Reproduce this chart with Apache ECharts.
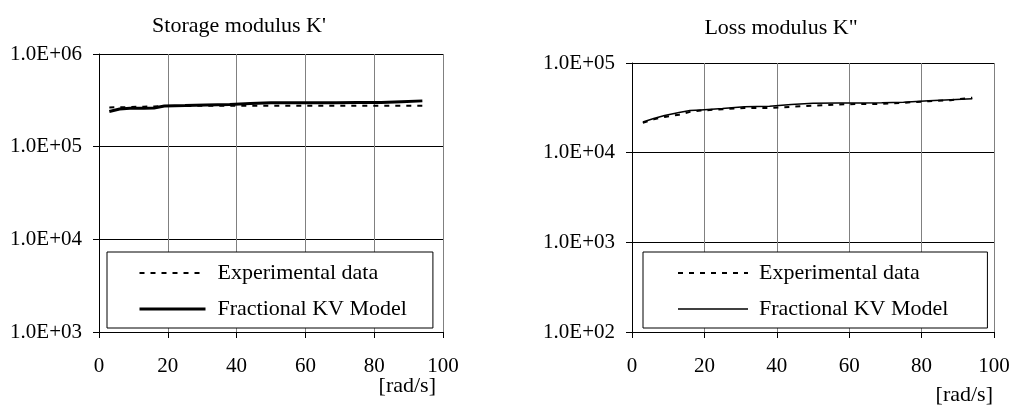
<!DOCTYPE html>
<html>
<head>
<meta charset="utf-8">
<script src="https://cdn.jsdelivr.net/npm/echarts@6/dist/echarts.min.js"></script>
<style>
  html, body { margin: 0; padding: 0; background: #fff; }
  #chart { width: 1016px; height: 411px; }
</style>
</head>
<body>
<div id="chart"></div>
<script>
// frequencies [rad/s]
const freq = [3, 6, 9, 13, 16, 19, 25, 31, 38, 44, 50, 57, 63, 69, 75, 82, 88, 94]
// storage modulus K'
const storageExp = [2.65e5, 2.66e5, 2.68e5, 2.7e5, 2.72e5, 2.74e5, 2.75e5, 2.76e5, 2.77e5, 2.77e5, 2.76e5, 2.76e5, 2.76e5, 2.76e5, 2.76e5, 2.76e5, 2.76e5, 2.76e5]
const storageModel = [2.4e5, 2.55e5, 2.6e5, 2.6e5, 2.62e5, 2.75e5, 2.78e5, 2.82e5, 2.86e5, 2.92e5, 2.98e5, 2.98e5, 2.98e5, 2.98e5, 2.99e5, 3.0e5, 3.06e5, 3.12e5]
// loss modulus K''
const lossExp = [2.15e4, 2.35e4, 2.5e4, 2.65e4, 2.85e4, 2.95e4, 3.05e4, 3.15e4, 3.15e4, 3.25e4, 3.35e4, 3.45e4, 3.5e4, 3.5e4, 3.6e4, 3.75e4, 3.85e4, 4.1e4]
const lossModel = [2.2e4, 2.4e4, 2.6e4, 2.8e4, 2.95e4, 3.0e4, 3.1e4, 3.25e4, 3.3e4, 3.45e4, 3.55e4, 3.57e4, 3.58e4, 3.6e4, 3.65e4, 3.8e4, 3.9e4, 4.0e4]
const xTicks = [0, 20, 40, 60, 80, 100]

const font = '"Liberation Serif", "Times New Roman", serif'
const pairs = vals => freq.map((f, i) => [f, vals[i]])
const expLabel = v => '1.0E+' + String(Math.round(Math.log10(v))).padStart(2, '0')

function xAxis(idx) {
  return {
    type: 'value', gridIndex: idx, min: xTicks[0], max: xTicks[xTicks.length - 1], interval: 20,
    name: '[rad/s]', nameLocation: 'end', nameGap: idx === 0 ? -7 : -1, nameMoveOverlap: false,
    nameTextStyle: { fontFamily: font, fontSize: 22, color: '#000', align: 'right', verticalAlign: 'top', padding: [idx === 0 ? 43 : 52, 0, 0, 0] },
    axisLine: { lineStyle: { color: '#000', width: 1 } },
    axisTick: { show: true, inside: false, length: 6, lineStyle: { color: '#000' } },
    axisLabel: { fontFamily: font, fontSize: 21, color: '#000', margin: 24 },
    splitLine: { show: true, lineStyle: { color: '#808080', width: 1 } }
  }
}

function yAxis(idx, min, max) {
  return {
    type: 'log', logBase: 10, gridIndex: idx, min: min, max: max,
    axisLine: { show: true, lineStyle: { color: '#000', width: 1 } },
    axisTick: { show: true, inside: false, length: 6, lineStyle: { color: '#000' } },
    axisLabel: { fontFamily: font, fontSize: 21, color: '#000', margin: 17, formatter: expLabel },
    splitLine: { show: true, lineStyle: { color: '#000', width: 1 } }
  }
}

function legend(left, padLeft, padRight, lineLen, textPad, modelWidth) {
  return {
    orient: 'vertical', left: left, top: 252,
    padding: [10, padRight, 8, padLeft],
    itemWidth: lineLen, itemHeight: 14, itemGap: 14,
    borderColor: '#000', borderWidth: 1, borderRadius: 0, backgroundColor: '#fff',
    selectedMode: false,
    itemStyle: { opacity: 0 },
    textStyle: { fontFamily: font, fontSize: 22, color: '#000', padding: [0, 0, 0, textPad] },
    data: [
      { name: 'Experimental data', lineStyle: { type: [5, 6], width: 2, color: '#000' } },
      { name: 'Fractional KV Model', lineStyle: { type: 'solid', width: modelWidth, color: '#000' } }
    ]
  }
}

const chart = echarts.init(document.getElementById('chart'))
chart.setOption({
  animation: false,
  backgroundColor: '#fff',
  title: [
    { text: "Storage modulus K'", left: 234, top: 10, textAlign: 'center', textStyle: { fontFamily: font, fontSize: 22, fontWeight: 'normal', color: '#000' } },
    { text: 'Loss modulus K"', left: 776, top: 12, textAlign: 'center', textStyle: { fontFamily: font, fontSize: 22, fontWeight: 'normal', color: '#000' } }
  ],
  legend: [
    legend(107, 31, 26, 66, 7, 3),
    legend(643, 34, 39, 70, 6, 1.5)
  ],
  grid: [
    { left: 99, top: 54, width: 344, height: 278 },
    { left: 632, top: 63, width: 362, height: 269 }
  ],
  xAxis: [xAxis(0), xAxis(1)],
  yAxis: [yAxis(0, 1e3, 1e6), yAxis(1, 1e2, 1e5)],
  series: [
    { name: 'Experimental data', type: 'line', xAxisIndex: 0, yAxisIndex: 0, symbol: 'none', data: pairs(storageExp), itemStyle: { color: '#000' }, lineStyle: { color: '#000', width: 2, type: [5, 6] }, z: 3 },
    { name: 'Fractional KV Model', type: 'line', xAxisIndex: 0, yAxisIndex: 0, symbol: 'none', data: pairs(storageModel), itemStyle: { color: '#000' }, lineStyle: { color: '#000', width: 3 }, z: 2 },
    { name: 'Experimental data', type: 'line', xAxisIndex: 1, yAxisIndex: 1, symbol: 'none', data: pairs(lossExp), itemStyle: { color: '#000' }, lineStyle: { color: '#000', width: 2, type: [5, 6] }, z: 3 },
    { name: 'Fractional KV Model', type: 'line', xAxisIndex: 1, yAxisIndex: 1, symbol: 'none', data: pairs(lossModel), itemStyle: { color: '#000' }, lineStyle: { color: '#000', width: 1.5 }, z: 2 }
  ]
})
</script>
</body>
</html>
